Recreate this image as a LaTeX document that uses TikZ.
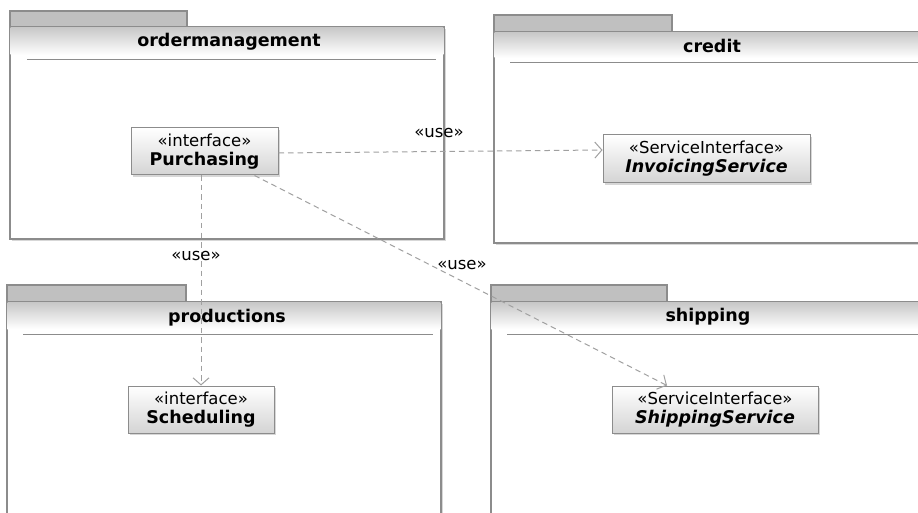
\documentclass[tikz,border=0pt]{standalone}
\usepackage{fontspec}
\setmainfont{DejaVu Sans}
\usetikzlibrary{shadows,arrows.meta}
\definecolor{edge}{RGB}{140,140,140}
\definecolor{tabfill}{RGB}{192,192,192}
\definecolor{hdr}{RGB}{200,200,200}
\definecolor{boxbot}{RGB}{212,212,212}
\definecolor{dep}{RGB}{160,160,160}
\definecolor{shadowc}{RGB}{215,215,215}
\begin{document}
\begin{tikzpicture}[x=1pt,y=-1pt,
  pkgtab/.style={draw=edge, fill=tabfill, line width=1.2pt},
  pkgbody/.style={draw=edge, fill=white, line width=1.2pt},
  pkghdr/.style={top color=hdr, bottom color=white},
  sepline/.style={draw=edge, line width=1pt},
  pkgtitle/.style={font=\fontsize{17.5}{20}\selectfont\bfseries, inner sep=0pt},
  classbox/.style={draw=edge, line width=1pt, top color=white, bottom color=boxbot,
     align=center, inner sep=0pt, font=\fontsize{16.5}{19}\selectfont,
     drop shadow={shadow xshift=2pt, shadow yshift=-2pt, fill=shadowc, opacity=1}},
  uselbl/.style={font=\fontsize{16.5}{19}\selectfont, inner sep=0pt},
  depline/.style={draw=dep, line width=1pt, dash pattern=on 5.5pt off 4pt,
     -{Straight Barb[length=7pt,width=16pt,line width=1pt]}}
]
\clip (0,0) rectangle (918,513);
\fill[white] (0,0) rectangle (918,513);

% ordermanagement
\fill[shadowc] (12,29) rectangle (446,241);
\draw[pkgtab] (10,11) rectangle (187,27);
\draw[pkgbody] (10,27) rectangle (444,239);
\shade[pkghdr] (10.6,27.6) rectangle (443.4,55);
\draw[sepline] (27,60) -- (436,60);
\node[pkgtitle] (tOM) at (229,42) {ordermanagement};

% credit
\fill[shadowc] (496,34) rectangle (932,245);
\draw[pkgtab] (494,15) rectangle (672,32);
\draw[pkgbody] (494,32) rectangle (930,243);
\shade[pkghdr] (494.6,32.6) rectangle (929.4,58);
\draw[sepline] (510,63) -- (930,63);
\node[pkgtitle] (tCR) at (712,46) {credit};

% productions
\fill[shadowc] (9,304) rectangle (443,530);
\draw[pkgtab] (7,285) rectangle (186,302);
\draw[pkgbody] (7,302) rectangle (441,530);
\shade[pkghdr] (7.6,302.6) rectangle (440.4,329);
\draw[sepline] (23,334) -- (433,334);
\node[pkgtitle] (tPR) at (227,318) {productions};

% shipping
\fill[shadowc] (493,304) rectangle (932,530);
\draw[pkgtab] (491,285) rectangle (667,302);
\draw[pkgbody] (491,302) rectangle (930,530);
\shade[pkghdr] (491.6,302.6) rectangle (929.4,329);
\draw[sepline] (507,334) -- (930,334);
\node[pkgtitle] (tSH) at (708,317) {shipping};

% classifiers
\node[classbox, minimum width=147pt, minimum height=47pt] (purch) at (204.5,151.5)
  {«interface»\\{\fontsize{17.5}{19}\selectfont\bfseries Purchasing}};
\node[classbox, minimum width=207pt, minimum height=48pt] (inv) at (706.5,159)
  {«ServiceInterface»\\{\fontsize{17.5}{19}\selectfont\bfseries\itshape InvoicingService}};
\node[classbox, minimum width=146pt, minimum height=47pt] (sched) at (201,409.5)
  {«interface»\\{\fontsize{17.5}{19}\selectfont\bfseries Scheduling}};
\node[classbox, minimum width=206pt, minimum height=47pt] (shipsvc) at (715,409.5)
  {«ServiceInterface»\\{\fontsize{17.5}{19}\selectfont\bfseries\itshape ShippingService}};

% dependencies
\draw[depline] ([yshift=-1.5pt]purch.east) -- ([yshift=9pt]inv.west);
\draw[depline] (purch.south -| sched.north) -- (sched.north);
\draw[depline] ([xshift=50pt]purch.south) -- ([xshift=-48pt]shipsvc.north);

\node[uselbl] (u1) at (439,133) {«use»};
\node[uselbl] (u2) at (196,256) {«use»};
\node[uselbl] (u3) at (462,265) {«use»};
\end{tikzpicture}
\end{document}
